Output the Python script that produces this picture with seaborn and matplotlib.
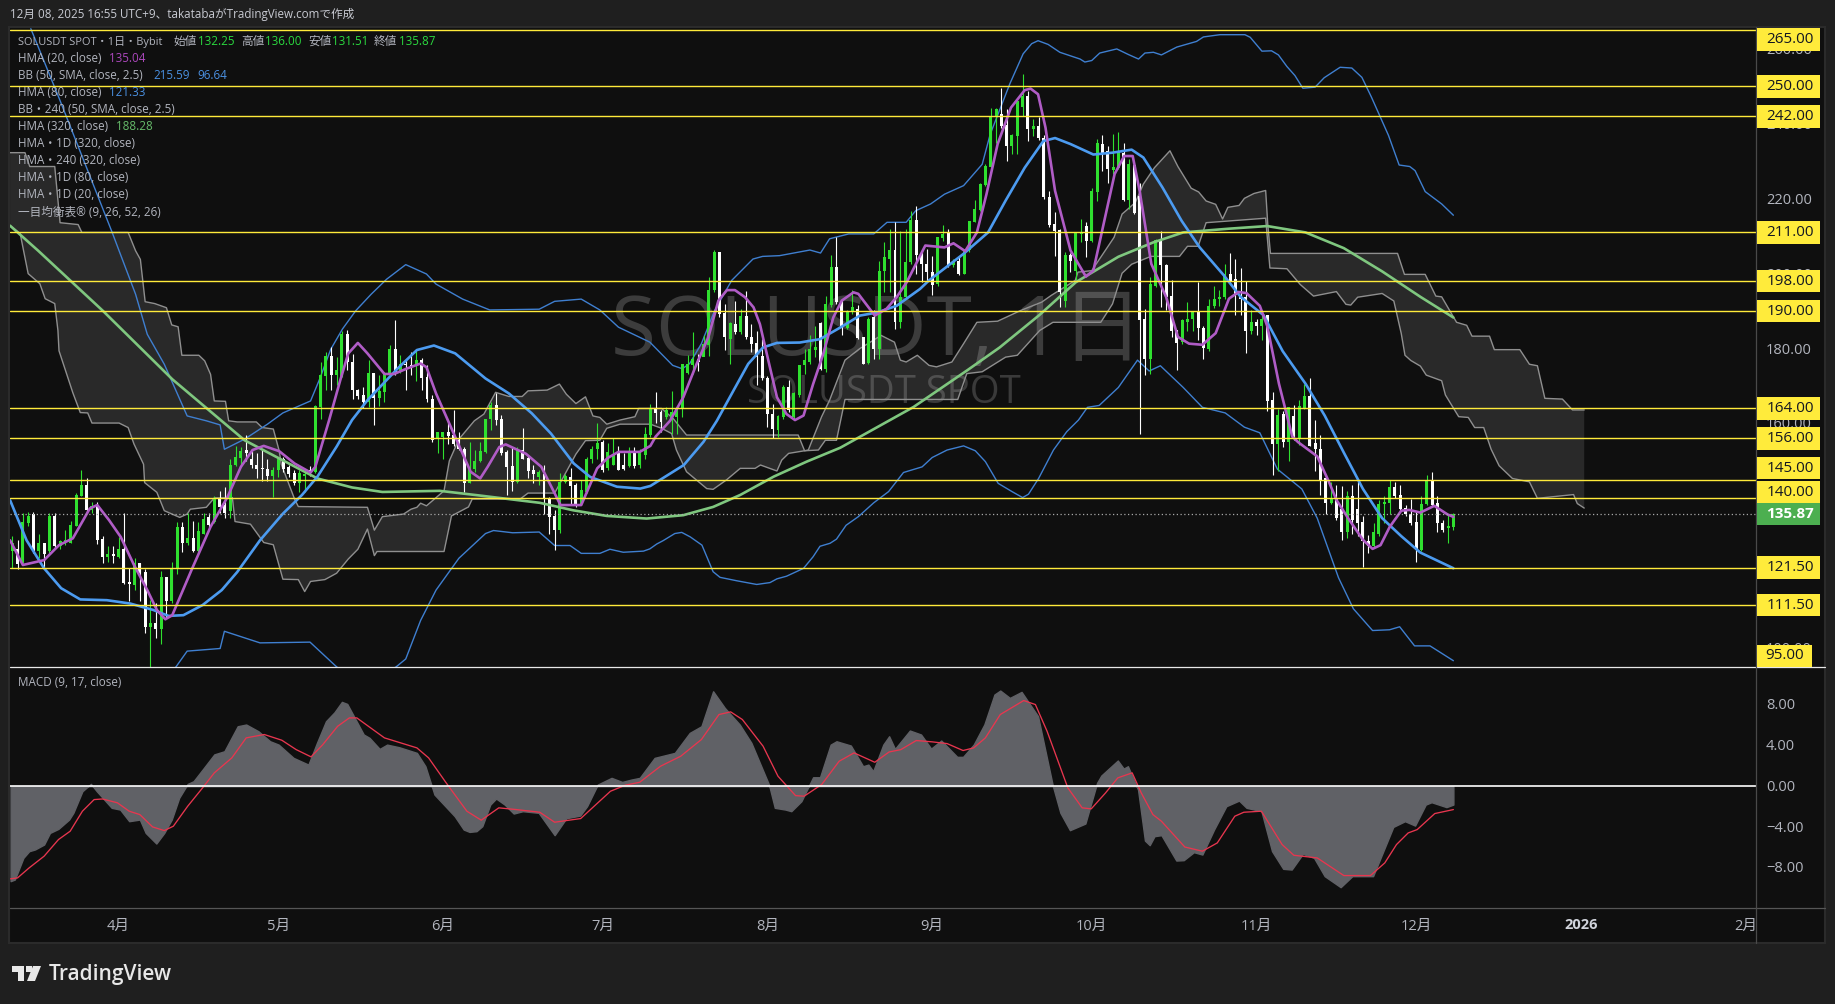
import numpy as np
import matplotlib
matplotlib.use("Agg")
import matplotlib.pyplot as plt
from matplotlib.patches import Rectangle, Polygon
from matplotlib.lines import Line2D
from matplotlib.transforms import ScaledTranslation
import seaborn as sns

W, H = 1835, 1004

# ---- daily candles, index 0 = 2025-03-12 ----
opens = [126,126.4,123,133.3,135.8,125.9,128,126,135.3,127.3,
128.4,128.2,132.5,140.7,143.5,137,138.3,129.2,124.3,125,
124.2,126.6,117.6,116.8,122.6,120.3,105.6,106.8,105,118.9,
112.5,121.5,132.3,128,129.3,126,130.6,135,133.8,140,
138.3,136.5,148.8,150.8,153,150.6,149,148.2,147.8,146,
147.6,150.6,148.4,146.8,144,146,147.5,147.1,164.4,172.6,
178,172.9,172.6,183.8,176.4,169,167.5,165.8,173.4,166.8,
168.4,173.2,179.8,173.8,176,175.7,175.6,176.9,172.5,166.6,
156,156.4,157.7,156.9,155.5,153.3,144.2,147.9,150,152.4,
161.2,165,161.2,152.4,148.6,144.4,152.9,150.9,147.6,145.8,
146.5,140,135.2,131.5,144.4,145.8,143.5,138.6,141.8,150.4,
153.2,155,148,149,152.5,149,148.5,152,148.9,151.6,
156.9,164.2,163,161.8,161,161.8,164,173.5,175.5,177.3,
177.7,180.9,195.5,205.9,189.5,182.6,186.6,184.4,188.8,183,
181.5,177.9,172.2,162.6,158.2,161.8,169.6,161.6,167.5,175.5,
176.4,179.5,186.8,174.6,191.5,201.7,192.4,185.5,189.7,190.6,
183,176.1,188.4,180,200.6,203.9,206.2,187,193.7,203,
214.4,205,202.6,200.4,197.3,209.5,210.8,202.2,203.5,200,
206.2,213.9,216.9,223.7,228.5,241.7,242.5,239.7,234.1,236.8,
244.5,247.4,238.5,239.4,236.2,220.5,213.3,211.6,192.7,205.1,
200.8,210.6,212.8,208.6,221.7,234.7,232.8,227.7,228.3,232.3,
219.7,229,220.8,187.9,177.3,196.8,208.8,202.2,193.9,184.9,
181.7,187,188,189.7,185.6,179.8,191.4,193.3,193.8,200,
198.6,194.3,193.8,184.6,187.2,186,189,166.2,154.6,162.6,
155.1,162,156,164,167.2,154.8,153.3,145.4,138.8,139.8,
137.2,130.9,140.6,137.2,133.8,128.7,127.2,130.4,138.4,138.8,
143,140.8,137.5,135.7,133.6,126.2,138.6,144.6,138.8,133.3,
132.2,132.25]
highs = [130,129,136,136.4,136.4,130.6,128,136,136,129,
131.5,134,141.4,147.5,145.3,139,139,130,127.3,127.3,
129.7,136,121.5,124,122.6,121,112.8,112,120.5,119,
123,133.8,133.8,136,134,133.8,136,136,140.6,142,
143,150.4,154,153.8,157,153.3,152,153.3,150.6,148.4,
151,151,148.9,147.5,147.5,147.5,148.5,165,176.4,179,
180.3,177.8,184.7,184.9,178.6,169.3,169.7,177,173.4,173,
173.8,181,187.7,178.4,177.3,179,179.4,177.6,175.5,167.5,
157.7,157.7,160.7,163.7,157.7,153.8,155,152.9,155,161.3,
165.8,168.1,162.3,152.9,153.8,153.6,158.7,151.5,148.9,147.5,
149,140.4,136.9,146.8,146.5,148,144,144.9,151,154,
160,155.5,154.7,156,154,152,153.8,153.8,153.3,159,
165.3,168.4,163.5,164.4,168.7,164.2,176,178.2,184.4,178.6,
183.7,199,206.3,205.9,192,187,192.8,190.6,195.3,186.6,
184.8,182.6,172.6,165.3,162.2,170.2,171.7,168.4,175.5,180,
183.5,186,187,193.9,205,209.9,193.3,190.2,195.5,191.5,
183,188.4,190.2,203.5,208.4,211.9,213.7,211.5,211.9,216.8,
218.1,206.2,206.6,204.8,209.7,213,212,204,204.8,206.6,
214.1,219.6,224.3,229.2,244.1,244.3,249.6,243.9,237.2,246.7,
253.4,248.8,241.2,241.8,237,222.1,216.4,211.9,205.7,205.4,
210.8,214.6,213.7,222.8,235.9,237,234.1,237.4,237.8,235,
230.6,229.2,224.3,190.6,199,209.3,211.5,202.6,198.3,184.9,
188,192.4,189.7,197.8,186,193.3,196.7,195.7,202.5,205.4,
204,201.5,197.9,190.4,187.8,189,189,168.3,163.8,163.3,
164.5,164.8,166.2,170.4,172,160.9,157,145.6,144.4,143.5,
143.3,142,143.5,145.2,135.2,130.1,133.3,139.6,140.6,144.9,
144.4,143.5,138.2,139.8,136.7,140.7,146.2,147,140.5,134.3,
135.7,136]
lows = [121.5,121,122.8,132.5,125.5,124,121.7,125.4,126.6,126.6,
127.5,128,132.5,140.5,136,136,127.8,122.8,123,122.8,
124,117,112.5,115.5,112.5,104,95,102.7,101,108,
112,119.8,125.6,127.5,125.8,125.8,130.6,132.3,133.5,136,
134.7,134.7,148.6,148.4,150,148,145.3,144.6,144.7,140.4,
145.8,147,145.8,143.5,141.8,141.8,146,146.8,161.3,169,
169,170.2,172.5,174.2,166.6,166.6,164.2,164.4,159.5,164.6,
165.8,173,173,173.4,169,173,171.4,169,165.8,155,
152,150.6,154.5,154,152.9,141.7,144,147,149.8,152,
158.3,159.6,151.6,140.8,142,144.2,150.4,145.3,144,143.5,
135.8,130.6,126.2,130.8,144.2,138.6,137.8,138.2,141.3,149.4,
150.4,147,147.6,149,147.5,147.5,148.3,148,148,150.5,
156.4,160,157.8,161.3,157.3,157.3,161.8,173.3,173.3,174,
178,178,195,188.4,179.5,175.8,184,184,182.6,179,
170.2,171.5,159.1,156,156.4,161.3,163,161.3,167,173.3,
176,177.7,174.2,173.7,191,192,183.5,185.3,189.3,182.6,
175.8,175.8,177.3,177.3,195,195,185.3,185.5,193.3,202.6,
200,197.7,197.7,194.2,196.8,208.8,201.9,201.7,199.7,199.9,
205.8,213.7,216.8,223.5,228.4,235,239,230,231.9,231.9,
242.1,235.3,236.8,235.6,219.9,212.4,204.8,191.2,191,200.4,
198.2,208.4,204.4,208.4,219.5,227.5,224.3,226.6,227.9,219.5,
217.2,216,157.3,172.9,173.3,196.4,191,190.2,183,174.2,
181.3,184.8,184.8,182.2,177.3,179.3,190.9,191.4,193.3,197.7,
189,189,178.8,183.9,183.6,182.2,163.3,146.1,147.3,153.6,
150,155.6,154.3,163.8,153.9,147.3,141,135.7,138.6,134.3,
129,129.3,130.4,129.9,121.7,125.3,127,129.9,133.3,135.7,
140,136.7,135.2,133,123.1,126,138.1,137.8,130.9,130.9,
128,131.51]
closes = [128,122.5,133.7,135.4,125.9,128,125,135.2,127.2,128.6,
129,133,141,143.5,136.9,138,129,124.2,125,124.5,
126.6,117.3,117.2,122.6,120,105.6,106.8,105,119,112.7,
121.5,132.3,128,129.3,126,131.2,134.6,132.8,139.8,137.8,
136,149,151,152.7,152,148.9,147.9,147.9,146,147.6,
150.6,147.8,146.5,144,146.8,146.6,146.5,164.6,172.9,178,
172.9,174.2,183.8,176.4,169,167.3,165.8,173.4,166.8,168.6,
173.2,179.8,173.8,176,175.5,175.1,176.9,172,166.4,155.5,
157.7,157.7,156.6,154.5,153.2,144.2,147.7,150,152.6,161.2,
165,160.9,152.2,148.4,144.4,152.9,150.4,147.3,146.5,147,
140,135,131.5,144.4,146,143.3,138.6,142.2,150.6,153.3,
154.9,147.6,152.5,151.5,147.6,147.8,152,148.6,152,157.3,
164,162.7,160.4,163.7,163,164,176,176,177.3,176.4,
181.3,195.7,205.9,189.3,183,186.8,184.4,188.8,183,181.3,
177.7,172,162.6,158.4,162,169.8,163.7,168,175.5,176.9,
180,180.4,174.6,191.8,201.7,192.4,185.5,189.7,191,182.9,
176,188,180,200.8,204.4,206.2,187,193.7,203,214.4,
205,202.6,200.4,197,209.7,210.6,202.4,203.5,200,206.2,
214.1,217.2,223.9,228.8,241.9,243.9,239.4,234.1,237,246.1,
247.4,238.5,239.4,236.2,220.4,213.1,211.5,195,205.1,203.3,
210.8,210.9,208.6,222.1,235,232.3,227.9,228.5,232.5,219.7,
229.2,216.1,187.7,177.3,197.3,209,202.2,193.7,184.7,181.5,
187.5,188,189.7,185.6,180.2,191.4,193.3,193.7,199.8,198.1,
194.3,193.3,184.6,187.2,186,188,165.9,154.6,162.3,155.1,
164.3,156,164.6,167.2,154.1,153.1,144.9,138.8,139.8,134.7,
130.9,140.6,134.3,133.3,128.5,127.2,130.9,138.4,139.1,143,
140.6,137.2,135.7,133.3,126.2,138.6,144.6,138.1,133.3,131.5,
132.4,135.87]
n_c = min(len(opens), len(highs), len(lows), len(closes))
opens, highs, lows, closes = opens[:n_c], highs[:n_c], lows[:n_c], closes[:n_c]

# ---- HMA 20 ----
hma20_x = [-0.4,2,6,8.8,11.4,14.6,16,18.2,20.4,22.9,25.4,27.2,28.8,30.1,33.7,37.3,40.5,43,45.2,47.3,50.2,53.1,56.1,57,59.6,61.7,63.2,65,66.8,70,71.8,74.3,76.8,77.9,79.7,83.3,86.2,88,89.4,91.6,92.8,96.6,99.5,101.7,103.1,107,110,112,114,118,120,121,123.7,126.2,128.7,130.9,132.8,134.4,135.9,137.8,139.4,140.6,142.2,143.8,145.6,147.2,148.8,150.6,152.5,154.4,156,158.2,159.1,162.2,164.4,166.3,168.2,171.7,175.3,177,179.2,181.4,183.2,185.3,187.8,190.4,191.5,192.9,194.3,196.1,199,201.9,203.3,205.5,207.3,209.1,210.7,212,214.2,217,219.2,221.3,223.8,226.3,228.8,230.6,232.1,234.6,236,238.2,240.7,241.8,245.4,247.6,249,251.2,254,255.8,257.3,259,261.2,262.7,264.8,267.4,269.9,271]
hma20_y = [128.8,122.2,123.5,127.5,129.3,137.3,138.2,134.2,129.7,122.2,115.5,110.2,107.7,108.8,120.8,132.4,140.4,148.4,152.9,154,152.6,149.3,146.9,148.4,160.9,171.6,178.7,181.5,178.7,173.2,173.2,174.7,176,175,168,156.4,147.1,145.3,148.4,153.7,154.4,151.9,148.4,142.2,138.2,138.2,148,150.8,152.4,152.4,154,156.5,160.7,167,175.9,183,192.8,195.6,195.6,193.7,191,186.5,176.7,167,162.5,160.9,162.1,170.5,178.5,188.3,192.8,195,194.6,188.8,190.6,193.7,197.7,207.5,207,208.1,206,211,221.2,234.6,244.3,249,249.4,247.9,239,222.1,206.2,199.2,200.8,215,226.6,231.4,231.4,222.1,202.6,193.7,183.1,181.3,181,184.1,193.3,195.1,194.8,191.4,186,170.6,156.5,155,151.2,144.4,139.6,134.7,128.9,126.5,127.5,132.3,136.7,136.9,136.2,138,135.7,135.04]

# ---- HMA 80 ----
hma80_x = [-0.4,2.7,6,9.2,12.8,17.8,22.2,26.5,29.4,32.2,35.8,39.4,42.3,46.6,50.9,54.5,57.4,61,63.9,66.8,72.5,76.1,79.3,83.3,89,93.4,97.7,101.3,105.6,108.7,113.7,118.1,120,126.3,130,132.5,135.6,138.4,141.2,143.8,148.1,151.9,155.7,159.4,162.6,166.3,170.7,172.4,178.9,183.5,186.8,190.4,193.9,196.1,199,203.3,206.9,210.5,212.7,216.3,219.9,223.3,227.8,231,235.3,238.9,243.2,246.8,250.4,254,257.6,261.2,264.8,271]
hma80_y = [139.5,128.8,121.3,116,113,112.8,111.9,110.2,108.6,108.8,111.5,115.5,120.3,128.8,135.9,140.9,145.8,153.8,160.9,166.2,174.7,179.6,180.8,178.7,172,168,162.7,157.3,149.3,145.7,143.1,142.6,143.3,148.9,155.1,160.7,168.7,175.9,180.3,181.5,181.6,182.5,185.6,188.8,189.6,191.4,195.9,198.2,205.3,211,219.5,228.3,235.4,236.2,234.6,231.8,232.3,233.1,231,223,214.1,207,199.6,193.8,188.9,179.3,170.6,162.1,152.2,142.5,134.7,129.9,125.5,121.33]

# ---- HMA 320 ----
hma320_x = [-0.4,4.9,17.1,30.1,43.7,57.4,63.9,69.6,80.4,87.6,99.2,105.5,111.8,119.3,126.2,131.8,136.9,143.2,149.4,155.7,169.5,179.6,185.7,193.2,200,208,214.5,220.2,228.8,236,243.2,250.4,257.6,264.8,271]
hma320_y = [212.8,206.1,190,171.8,155.5,145.3,142.9,141.7,142,140.8,138.8,136.8,135.3,134.6,135.5,137.7,140.9,145.8,149.8,153.5,164.4,174.2,180.3,189,197.7,204.5,208.3,211,212,212.7,211,206.8,200.6,193.8,188.28]

# ---- Bollinger upper / lower ----
bb_up_x = [3.5,9,18.8,20.1,23.2,25.4,28.6,32.9,36.5,39.1,39.9,43.7,48,50.9,56.1,57.8,59.9,62.1,64.6,67.5,70.4,74,77.9,79.7,84.7,89.8,99.1,102,107,110.5,114,119.9,124.2,126,127.4,129.6,132.1,135.3,139.3,141.1,144.3,150,152,153.7,157.3,162,164.5,168.1,169.9,172.7,175.3,178.9,182.4,183.9,187.6,190.1,191.7,192.9,194.8,197,200.8,201.7,203,204.5,207.7,209.9,211.8,213,214.6,216.1,219,222.7,224,227.1,231.8,232.8,235,236.8,238.1,239.7,241.2,242.7,245,246.7,249.7,251.9,253.8,255.6,258.8,260.8,262.8,263.8,265.7,268.8,271]
bb_up_y = [265.4,246.2,211,206.1,194.5,183.8,175.8,162,160.7,159.6,153.1,155.8,159.8,162.8,166,171.8,179.8,185.2,190.1,194.5,198.5,202.4,199.9,197.2,193.2,190.3,190.5,192.6,193.2,190.3,185.7,181.7,175.5,174.6,176,181.3,190.2,198.2,203.9,204.6,204.8,206.3,205.5,209.3,210.6,210.6,213.7,213.7,216.8,218.6,221.2,223.5,229.2,237.2,250.7,258.7,261.4,262.2,261.2,259.1,257.3,256.5,256.9,258.9,260,258.5,257.3,258.9,259.1,258.4,260.5,262,263.2,263.8,263.8,263.1,259.4,259.5,258.4,255.3,252.9,249.5,249.8,252.3,255.1,254.9,252.4,247.1,236.9,229,228.6,227.5,221.9,218.6,215.59]
bb_lo_x = [30,30.8,32.9,39.1,39.9,46.6,56,61,66,72.2,74,76.8,79.7,84,89,90.5,94.1,99.1,102,104.9,107,110.5,112.4,114.9,118.7,119.9,121.2,122.4,124.6,125.9,127.5,129.7,131.8,133.1,136.2,140,142.5,143.8,145.6,148.8,150.6,151.9,153.8,155,156.8,159.1,162,164.8,167.6,171.1,173,175.8,178.9,181.1,183,185.4,188,190,191.1,193,195.8,198.3,200.5,202.2,204.4,208,211.6,213.8,215.9,220.2,223.8,228.1,231.7,234.6,237.9,242.5,245.4,249.4,252.2,255.8,259,260.9,263.7,266.6,271]
bb_lo_y = [94,95,99.2,99.9,104.5,101.4,101.6,95,90,95,97.1,107.4,115.5,124,130.6,131.4,130.8,131,127.4,127.4,125.3,125.3,126.4,125.6,125.9,126.5,127.8,128.7,130.6,130.9,129.7,127.5,120.4,118.9,118,117,117.5,118.5,119.2,121.3,124.4,127.2,128,129.1,132.8,135.1,138.8,141.8,146.9,148.4,150.9,152.9,154,152.7,149.8,144,141.8,140.2,141.1,145.3,152.9,157.8,160.9,164.3,164.8,169.6,176.9,174,175.4,169.6,164.3,162.8,159,157.5,147.8,142.5,134.7,118.8,110.5,104.7,104.9,105.7,100.6,100.6,96.64]

# ---- Ichimoku cloud edges ----
cloud_a_x = [-0.4,2.4,3.3,8,9,12.4,13.1,21.8,23.2,24.1,25,26.8,29,30,31.2,31.9,35.1,36.2,37.3,38,40.1,40.7,42.3,45.9,47,49.1,50.2,50.6,53.1,53.8,66.8,68.1,69.6,73.6,75,76.1,76.8,77.9,81.2,82.2,84,86.9,88.7,90.9,93.4,95.9,97,100.6,102.9,104.2,106,107.8,109.2,110.5,111.8,114.3,117.1,117.8,120,122.1,124.3,126.8,147.8,149,149.7,152.2,153.7,156.6,159.4,163.4,165.9,167,168.1,170.2,172.4,173.8,176.7,178.9,181.4,185.3,189.7,193.6,195.4,199.9,200.4,203,207.2,208.7,211.2,212.7,214.8,217.7,219.2,221.7,223.1,224.5,226.3,227.6,228.6,230.7,231.7,233.5,235.7,236.1,236.6,260.5,261.8,265.7,267.7,268.8,271.6,273.5,274.5,277.8,278.7,283.5,285.3,286.8,288.2,291.5,293.4,295.6]
cloud_a_y = [232.3,232.3,228.6,228.6,213.6,213.1,211,211,206.1,203.8,192.5,192,190.9,186.3,185.8,178.2,178.2,176.7,173.1,166,165.9,160.7,160.4,160.4,158.9,158.5,152.7,149.1,139.8,137.8,137.6,131.5,135.1,135.8,137.1,137.6,138.7,138,142,150,155.8,160.7,162.5,168.3,167.2,167.2,168.7,168.9,170.5,167.8,165.3,167.1,162,161.6,159.8,160.9,161.8,164,164,164,161.3,156.9,156.9,152.7,152.9,161.8,166.2,176.9,180,183.5,181.7,176.9,176.4,178.2,175.5,175.1,176.4,181.3,187,187.3,190.2,192.4,194.2,198.2,200.4,200.8,209.7,215.9,219,223.9,228.3,232.8,228.6,222.8,221.8,219.4,218.5,214.6,217.7,218.2,220.1,221.4,222.2,213.1,205.4,205.4,199.8,199.8,194,193.8,187,186.2,183.3,183.3,179.7,179.7,175.8,175.4,166.7,166.5,163.6,163.6]
cloud_b_x = [-0.4,1.5,3,5.2,6.2,8,8.6,8.8,11.4,12.8,14.2,15,20.1,21.8,22.9,24.7,24.9,27.2,28.6,31.5,32.9,33.5,36.5,38,41.4,41.9,44.8,47.3,49.1,50.9,53.8,55,56.1,58.8,61,63.2,65,66.8,68.1,68.6,81.2,82.6,85.8,86.5,95.5,97,102,106,107.8,110.5,111.8,114.3,120,122.1,124,124.9,126.8,130.6,131.8,134.3,136.9,139.7,140.7,143.8,144.7,146,149,151.6,152.9,155,156.6,177.8,179.5,182.4,186.8,189,193.2,195.7,204.7,206.9,208.7,210.5,214.1,219.5,221,223,224.5,235.7,236.5,239.7,242.2,244.7,249,250.8,251.7,253,257.6,259.8,261.2,261.9,263,264.8,265.9,268.8,269.5,272,273.8,275,276.7,278.1,279.6,282.1,285.3,286.8,293.6,294.3,295.6]
cloud_b_y = [212.8,210.7,200,197.3,193.3,192,184.8,179.4,168.2,162.9,162.8,160.1,160.1,158.9,154.5,149.1,144.2,141.6,136.7,134.9,135.8,137.1,137.6,140.1,140.2,133.8,133.1,128.2,127.6,118.4,118.3,115.1,117.8,118.3,120,123.8,126.4,131.8,124.7,125.8,125.8,135.3,137.7,139.8,139.8,141.4,141.4,151.8,155.4,155.5,158.7,159.8,159.8,158.7,157.3,152.9,147.1,142.6,142.4,144.9,148,148,148.9,147.3,150.2,152,152.7,152.9,155.5,155.5,166.4,166.4,173.3,173.8,177.7,178.2,184.8,187,187,191.9,200.1,202.5,204.6,204.6,207.3,207.3,213.6,214.8,201.5,201.3,197.1,194,195.2,191.8,191.6,193.7,194.7,192.7,184,178.2,176.8,175.3,172.9,171.4,167.6,161.8,161.6,158.9,158.9,153.1,148.7,145.3,144.4,140,141,138.6,137.4]

# ---- MACD ----
macd_x = [-0.3,0.5,2.1,3.2,4.3,6,7.1,8.7,10.7,11.5,13.2,14.8,15.9,18.7,20.3,22,24,25.1,27.1,28.6,30,31.4,33,34.1,35.8,38,39.9,42.4,44,46.3,48.5,50.1,52.9,55.7,57.3,59,60.6,62,63,66.1,67.2,69.1,70.5,72.8,76.1,77.7,79.4,83.2,84.9,86,87.3,88.4,89.9,91,92.6,94.3,96,99,102,104.2,106.8,108.1,110.1,112.7,114.7,116.4,118,120.8,124.6,127.4,129.6,131.8,134,136.8,139,142.3,143.4,145.4,146.5,148.4,150.6,151.9,153.9,155,157.7,160,161,161.9,163.8,164.9,166,168.8,170.9,172.8,174.7,177.7,178.8,180.8,182.8,184.7,185.8,187.6,189.8,192.9,195.7,197.1,198.9,201.8,204,204.8,207.9,209,209.8,211.7,213,213.9,214.8,216.1,218.9,220.3,222.2,223.8,226,228.3,230.7,232.1,234.9,236.9,239,240.6,242.7,244.8,246.8,249.8,252,255.9,259.7,261.9,263.8,265.8,266.9,269.7,271]
macd_y = [-9.31,-9.15,-7.03,-6.37,-6.2,-5.72,-4.58,-4.18,-3.27,-2.61,-0.49,0.23,-0.49,-2.12,-2.29,-3.43,-3.27,-4.58,-5.62,-4.58,-3.27,-1.14,0.23,0.49,1.63,3.12,3.43,5.88,6.05,5.39,4.41,4.08,2.78,2.12,4.25,6.37,7.25,8.27,8.07,5.07,4.74,3.66,4.08,3.82,3.27,1.96,-0.82,-2.94,-4.25,-4.48,-4.41,-3.92,-1.8,-1.21,-1.8,-2.68,-2.45,-2.61,-4.8,-3.14,-2.88,-1.96,0.16,0.82,0.42,0.65,0.82,2.78,3.27,5.23,5.88,9.31,7.68,6.05,4.25,0.16,-2.12,-2.29,-2.45,-1.47,0.88,0.88,4.08,4.41,3.99,1.96,2.12,1.47,4.08,4.9,3.66,5.46,5.07,3.69,4.48,2.88,2.88,4.08,6.05,8.99,9.38,8.66,9.25,6.86,0,-2.61,-4.31,-3.66,0.33,1.05,2.52,1.73,1.96,-0.33,-5.33,-5.78,-4.9,-4.8,-7.29,-7.25,-6.47,-6.7,-4.25,-1.96,-1.41,-2.12,-2.45,-6.37,-8.1,-8.17,-6.63,-7.03,-8.82,-9.9,-8.82,-8.82,-3.99,-3.43,-3.86,-1.8,-1.57,-2.05,-1.8]
signal_x = [-0.3,1,3.2,6,8.7,10.9,13.2,15.4,17,19.8,22,24,26.4,28.6,30.3,33,35.8,38,41.3,44,47.4,50.7,53.4,56.2,58.4,61.2,63.4,64.8,70,76.1,78.3,81.6,85.5,88.2,91.5,94.8,99.2,102,106.9,112.5,115.3,118,121.9,125.7,129.6,132.9,135.1,137.3,141.2,144,147.3,148.9,152.2,155.5,158.3,162.2,164.9,167.1,170,173,175.8,178.8,180.8,183,185.8,190.2,192.4,194.6,198.5,201.2,202.9,205.6,207.9,210.6,212.3,214.5,216.1,220.5,223.8,226.6,229.9,231.6,234.9,238.8,241,245.4,250.4,255.4,258.1,260.3,262.5,264.2,267.5,271]
signal_y = [-9.08,-8.99,-8,-6.86,-5.23,-4.41,-2.45,-1.31,-1.25,-1.63,-2.45,-2.78,-3.99,-4.35,-3.92,-1.96,-0.16,1.31,2.78,4.74,5.07,4.51,3.59,2.88,4.08,5.88,6.7,6.7,4.74,3.76,2.78,0.33,-2.45,-3.33,-2.12,-2.29,-2.55,-3.53,-3.17,-0.49,0.1,0.39,1.96,2.94,4.58,7.03,7.29,6.54,3.92,0.98,-0.92,-0.98,0.16,2.45,3.27,2.35,3.36,3.59,4.48,4.35,4.18,3.5,3.76,4.74,7.03,8.4,8.01,5.39,-0.16,-2.12,-2.22,-0.65,0.82,1.31,-0.65,-2.78,-3.43,-5.96,-6.37,-5.56,-2.94,-2.55,-2.45,-5.72,-6.77,-7.03,-8.76,-8.76,-7.52,-5.72,-4.58,-4.25,-2.68,-2.29]

levels = [265, 250, 242, 211, 198, 190, 164, 156, 145, 140, 121.5, 111.5, 95]
level_text = ["265.00","250.00","242.00","211.00","198.00","190.00","164.00","156.00","145.00","140.00","121.50","111.50","95.00"]
price_ticks = [100, 160, 180, 200, 220, 240, 260]
macd_ticks = [-8, -4, 0, 4, 8]
macd_tick_text = ["\u22128.00", "\u22124.00", "0.00", "4.00", "8.00"]
month_pos = [20, 50, 81, 111, 142, 173, 203, 234, 264, 295, 326]
month_text = ["4月","5月","6月","7月","8月","9月","10月","11月","12月","2026","2月"]
last_price = 135.87

BG = "#1f1f1f"; PANEL = "#0f0f0f"; TXT = "#b2b5be"; YEL = "#ffeb3b"
GRN = "#2fe02f"; CPUR = "#b05cc6"; CBLU = "#4c9bf0"; CGRN = "#7fc77f"; CBB = "#3f7fd0"

sns.set_theme(style="dark", rc={"axes.facecolor": PANEL, "figure.facecolor": BG, "axes.grid": False})
plt.rcParams["font.family"] = ["Open Sans", "Noto Sans CJK JP", "DejaVu Sans"]

def fx(px): return px / W
def fy(py): return 1 - py / H

fig = plt.figure(figsize=((W + 0.01) / 100, (H + 0.01) / 100), dpi=100, facecolor=BG)
fig.add_artist(Rectangle((fx(9), fy(943)), (1825 - 9) / W, (943 - 27) / H, transform=fig.transFigure,
                         fc=PANEL, ec="#2b2b2b", lw=1.5, zorder=-1))

ax = fig.add_axes([fx(10), fy(666.85), 1745.7 / W, 639.15 / H])
am = fig.add_axes([fx(10), fy(908), 1745.7 / W, 241 / H])
XL = (-0.414, 327.85)

# watermark
ax.text(fx(877), fy(334), "SOLUSDT, 1日", transform=fig.transFigure, ha="center", va="center",
        fontsize=59, color="#3c3c3c", zorder=0.5)
ax.text(fx(747), fy(393), "SOLUSDT SPOT", transform=fig.transFigure, ha="left", va="center",
        fontsize=27.5, color="#3a3a3a", zorder=0.5)

# cloud
ax.fill(np.r_[cloud_a_x, cloud_b_x[::-1]], np.r_[cloud_a_y, cloud_b_y[::-1]],
        fc="white", alpha=0.11, lw=0, zorder=1)
for cx, cy in ((cloud_a_x, cloud_a_y), (cloud_b_x, cloud_b_y)):
    sns.lineplot(x=cx, y=cy, ax=ax, color="#8f8f8f", lw=1.0, estimator=None, sort=False, legend=False, zorder=1.2)

# bands
for bx, by in ((bb_up_x, bb_up_y), (bb_lo_x, bb_lo_y)):
    sns.lineplot(x=bx, y=by, ax=ax, color=CBB, lw=1.0, estimator=None, sort=False, legend=False, zorder=1.5)

# candles
idx = np.arange(n_c)
o, h, l, c = map(np.array, (opens, highs, lows, closes))
cols = np.where(c >= o, GRN, "#ffffff")
ax.vlines(idx, l, h, colors=cols, lw=0.8, zorder=2)
ax.bar(idx, np.maximum(np.abs(c - o), 0.3), bottom=np.minimum(o, c), width=0.56, color=cols, lw=0, zorder=2.1)

# HMAs
sns.lineplot(x=hma320_x, y=hma320_y, ax=ax, color=CGRN, lw=1.9, estimator=None, sort=False, legend=False, zorder=2.5)
sns.lineplot(x=hma80_x, y=hma80_y, ax=ax, color=CBLU, lw=1.9, estimator=None, sort=False, legend=False, zorder=2.6)
sns.lineplot(x=hma20_x, y=hma20_y, ax=ax, color=CPUR, lw=1.9, estimator=None, sort=False, legend=False, zorder=2.7)

# levels
for lv in levels[:-1]:
    ax.axhline(lv, color=YEL, lw=1.0, zorder=3)
ax.axhline(last_price, color="#a8a8a8", lw=0.9, ls=(0, (1, 2)), zorder=2.9)

ax.set_xlim(*XL); ax.set_ylim(95, 265.67)
ax.set_xticks([]); ax.set_xlabel(""); ax.set_ylabel("")
ax.yaxis.tick_right()
ax.set_yticks(price_ticks); ax.set_yticklabels([f"{t:.2f}" for t in price_ticks])
ax.tick_params(axis="y", length=0, pad=7.3, labelsize=10.5, labelcolor=TXT)
for s in ax.spines.values(): s.set_visible(False)

# MACD
am.fill_between(macd_x, macd_y, 0, color="#606166", lw=1, zorder=1)
sns.lineplot(x=signal_x, y=signal_y, ax=am, color="#e8364f", lw=0.95, estimator=None, sort=False, legend=False, zorder=2)
am.axhline(0, color="white", lw=1.2, zorder=3)
am.set_xlim(*XL); am.set_ylim(-11.94, 11.69)
am.set_xlabel(""); am.set_ylabel("")
am.yaxis.tick_right()
am.set_yticks(macd_ticks); am.set_yticklabels(macd_tick_text)
am.set_xticks(month_pos); am.set_xticklabels(month_text)
am.tick_params(axis="y", length=0, pad=7.3, labelsize=10.5, labelcolor=TXT)
am.tick_params(axis="x", length=0, pad=7.5, labelsize=10.5, labelcolor=TXT)
for t in am.get_xticklabels():
    if t.get_text() == "2026":
        t.set_fontweight("bold"); t.set_color("#d1d4dc")
for s in am.spines.values(): s.set_visible(False)
up_m = ScaledTranslation(0, 1 / 100, fig.dpi_scale_trans)
up_p = ScaledTranslation(0, 0.5 / 100, fig.dpi_scale_trans)
for t in am.get_yticklabels():
    t.set_transform(t.get_transform() + up_m)
for t in ax.get_yticklabels():
    t.set_transform(t.get_transform() + up_p)

# frame lines
def hline(py, x0, x1, col, lw):
    fig.add_artist(Line2D([fx(x0), fx(x1)], [fy(py), fy(py)], color=col, lw=lw, zorder=4))
hline(666.8, 10, 1825, "#e8e8e8", 0.9)
hline(908, 10, 1825, "#565656", 0.9)
fig.add_artist(Line2D([fx(1755.7)] * 2, [fy(27), fy(943)], color="#4a4a4a", lw=0.9, zorder=4))

# right labels
fig.canvas.draw()
offs = {265: 9.3, 145: -11.4, 140: -6.1, 95: -11}
def label_py(p):
    return H - ax.transData.transform((0, p))[1]
for lv, txt in zip(levels, level_text):
    yc = label_py(lv) + offs.get(lv, 0)
    x1 = 1812 if lv == 95 else 1820
    fig.add_artist(Rectangle((fx(1756.5), fy(yc + 11.2)), (x1 - 1756.5) / W, 22.4 / H, transform=fig.transFigure,
                             fc="#ffeb3b", ec="none", zorder=5))
    fig.text(fx(1790 if lv != 95 else 1785), fy(yc), txt, ha="center", va="center", fontsize=11, color="#131722", zorder=6)
yc = label_py(last_price) + 0.5
fig.add_artist(Rectangle((fx(1756.5), fy(yc + 11.2)), 63.5 / W, 22.4 / H, transform=fig.transFigure,
                         fc="#4caf50", ec="none", zorder=5))
fig.text(fx(1790), fy(yc), f"{last_price:.2f}", ha="center", va="center", fontsize=11, color="white",
         fontweight="bold", zorder=6)

# header text
fig.text(fx(10), fy(14.5), "12月 08, 2025 16:55 UTC+9、takatabaがTradingView.comで作成", fontsize=8.4,
         color="#c8cad2", va="center", ha="left")
C_G = "#2bd93f"; C_P = "#ab47bc"; C_B = "#4a8fe0"; C_L = "#66bb6a"
rows = [
    (41.7, [(18, "SOLUSDT SPOT・1日・Bybit", TXT), (173, "始値", TXT), (198, "132.25", C_G), (241, "高値", TXT), (265, "136.00", C_G),
            (308, "安値", TXT), (332, "131.51", C_G), (374, "終値", TXT), (399, "135.87", C_G)]),
    (58.7, [(18, "HMA (20, close)", TXT), (109, "135.04", C_P)]),
    (75.7, [(18, "BB (50, SMA, close, 2.5)", TXT), (153, "215.59", C_B), (197, "96.64", C_B)]),
    (92.7, [(18, "HMA (80, close)", TXT), (109, "121.33", C_B)]),
    (109.7, [(18, "BB・240 (50, SMA, close, 2.5)", TXT)]),
    (126.7, [(18, "HMA (320, close)", TXT), (116, "188.28", C_L)]),
    (143.7, [(18, "HMA・1D (320, close)", TXT)]),
    (160.7, [(18, "HMA・240 (320, close)", TXT)]),
    (177.7, [(18, "HMA・1D (80, close)", TXT)]),
    (194.7, [(18, "HMA・1D (20, close)", TXT)]),
    (212, [(18, "一目均衡表® (9, 26, 52, 26)", TXT)]),
]
for py, parts in rows:
    for i, (px, s, col) in enumerate(parts):
        size = 7.9 if (py == 41.7 and i == 0) else 8.4
        fig.text(fx(px), fy(py), s, fontsize=size, color=col, va="center", ha="left", zorder=6)
fig.text(fx(18), fy(682), "MACD (9, 17, close)", fontsize=8.4, color=TXT, va="center", ha="left", zorder=6)

# TradingView logo
def poly(pts):
    fig.add_artist(Polygon([(fx(a), fy(b)) for a, b in pts], closed=True, transform=fig.transFigure,
                           fc="#e8e8e8", ec="none"))
poly([(12, 966), (24, 966), (24, 981), (18, 981), (18, 972), (12, 972)])
poly([(33, 966), (41, 966), (35, 981), (27, 981)])
fig.add_artist(Rectangle((fx(26), fy(972)), 6 / W, 6 / H, transform=fig.transFigure, fc="#e8e8e8", ec="none"))
fig.text(fx(49), fy(974.5), "TradingView", fontsize=15, fontweight="semibold", color="#e8e8e8", va="center", ha="left")

fig.savefig("out.png", dpi=100, facecolor=BG)
